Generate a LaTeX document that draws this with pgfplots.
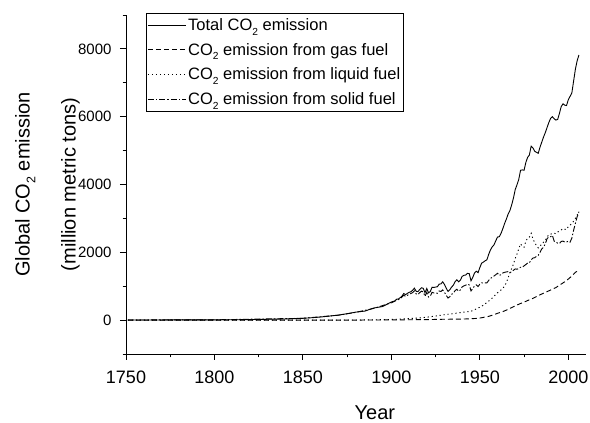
\documentclass[border=0pt]{standalone}
\usepackage{pgfplots}
\usepackage{pgfplotstable}
\usepackage{graphicx}
\pgfplotsset{compat=1.18}
\usepackage{fontspec}
\setmainfont{Liberation Sans}
\newcommand{\subtwo}{\raisebox{-0.55ex}{\scalebox{0.62}{2}}}

\pgfplotstableread{
year val
1751 3
1760 3
1770 4
1780 5
1790 6
1800 8
1810 10
1820 14
1830 24
1840 33
1850 54
1855 70
1860 91
1865 119
1870 147
1875 188
1880 236
1885 265
1890 356
1895 400
1900 534
1901 552
1902 566
1903 617
1904 624
1905 663
1906 707
1907 784
1908 750
1909 785
1910 819
1911 836
1912 879
1913 943
1914 850
1915 838
1916 901
1917 955
1918 936
1919 806
1920 932
1921 803
1922 845
1923 970
1924 963
1925 975
1926 983
1927 1062
1928 1065
1929 1130
1930 1053
1931 940
1932 847
1933 893
1934 973
1935 1027
1936 1130
1937 1190
1938 1130
1939 1180
1940 1290
1941 1320
1942 1330
1943 1380
1944 1370
1945 1160
1946 1260
1947 1390
1948 1440
1949 1400
1950 1550
1951 1680
1952 1710
1953 1750
1954 1780
1955 1940
1956 2070
1957 2160
1958 2220
1959 2340
1960 2450
1961 2460
1962 2560
1963 2700
1964 2850
1965 2980
1966 3130
1967 3230
1968 3400
1969 3600
1970 3850
1971 3990
1972 4150
1973 4420
1974 4430
1975 4420
1976 4650
1977 4800
1978 4870
1979 5130
1980 5080
1981 4980
1982 4950
1983 4920
1984 5100
1985 5250
1986 5400
1987 5530
1988 5680
1989 5830
1990 5950
1991 6000
1992 5940
1993 5900
1994 5920
1995 6100
1996 6300
1997 6380
1998 6340
1999 6330
2000 6500
2001 6600
2002 6700
2003 7050
2004 7400
2005 7650
2006 7820
}\total

\pgfplotstableread{
year val
1751 0
1880 0
1890 4
1900 5
1910 10
1920 15
1930 25
1940 30
1945 40
1948 50
1950 60
1953 90
1955 110
1958 160
1960 200
1963 250
1965 295
1968 370
1970 420
1973 490
1975 530
1978 600
1980 640
1983 720
1985 770
1988 840
1991 910
1993 960
1995 1030
1998 1130
2000 1210
2002 1300
2004 1410
2006 1470
}\gas

\pgfplotstableread{
year val
1751 0
1860 0
1870 1
1880 3
1890 8
1900 20
1905 30
1910 45
1915 60
1920 85
1925 120
1930 160
1935 190
1940 230
1945 260
1948 330
1950 380
1952 440
1955 560
1957 650
1959 760
1961 850
1963 930
1965 1100
1967 1400
1969 1650
1970 1820
1971 1950
1972 2100
1973 2250
1974 2180
1975 2150
1976 2330
1977 2420
1978 2450
1979 2560
1980 2400
1981 2280
1982 2200
1983 2130
1984 2200
1985 2220
1986 2300
1987 2350
1988 2450
1989 2520
1990 2530
1991 2560
1992 2560
1993 2550
1994 2600
1995 2620
1996 2660
1997 2700
1998 2680
1999 2670
2000 2760
2001 2800
2002 2850
2003 2920
2004 3000
2005 3100
2006 3200
}\liquid

\pgfplotstableread{
year val
1751 3
1800 8
1850 53
1870 144
1880 230
1890 345
1900 510
1903 585
1905 625
1907 735
1908 700
1910 760
1912 810
1913 865
1914 770
1915 755
1916 810
1917 855
1918 830
1919 700
1920 820
1921 680
1922 710
1923 820
1924 800
1925 800
1926 790
1927 860
1928 845
1929 890
1930 820
1931 730
1932 650
1933 690
1934 760
1935 790
1936 870
1937 910
1938 850
1939 890
1940 980
1941 1010
1942 1030
1943 1060
1944 1040
1945 860
1946 930
1947 1010
1948 1040
1949 990
1950 1060
1951 1100
1952 1090
1953 1100
1954 1100
1955 1170
1956 1230
1957 1260
1958 1300
1959 1340
1960 1380
1961 1320
1962 1340
1963 1390
1964 1410
1965 1420
1966 1430
1967 1400
1968 1430
1969 1470
1970 1510
1971 1500
1972 1520
1973 1560
1974 1560
1975 1600
1976 1640
1977 1680
1978 1690
1979 1780
1980 1830
1981 1840
1982 1880
1983 1910
1984 2000
1985 2100
1986 2150
1987 2250
1988 2400
1989 2450
1990 2460
1991 2500
1992 2330
1993 2300
1994 2270
1995 2260
1996 2320
1997 2330
1998 2300
1999 2300
2000 2330
2001 2300
2002 2420
2003 2650
2004 2850
2005 3050
2006 3180
}\solid

\begin{document}
\begin{tikzpicture}
\useasboundingbox (-126pt,-69pt) rectangle (464pt,354pt);
\begin{axis}[
  at={(0pt,0pt)}, anchor=south west,
  scale only axis, width=460pt, height=339pt,
  xmin=1750, xmax=2010, ymin=-1000, ymax=9000,
  axis lines*=left,
  axis line style={line width=0.9pt},
  tick style={line width=0.9pt, black},
  tick align=outside,
  major tick length=6pt, minor tick length=3.3pt,
  xtick={1750,1800,...,2000}, minor xtick={1775,1825,...,2000},
  ytick={0,2000,...,8000}, minor ytick={-1000,1000,...,9000},
  /pgf/number format/assume math mode=true,
  /pgf/number format/1000 sep={},
  xticklabel style={font=\fontsize{18}{20}\selectfont, yshift=-7pt},
  yticklabel style={font=\fontsize{15}{18}\selectfont, xshift=-5pt},
  xlabel={Year},
  xlabel style={at={(axis description cs:0.541,-0.192)}, anchor=base, font=\fontsize{20}{24}\selectfont},
  ylabel={Global CO\subtwo{} emission\\[22pt](million metric tons)},
  ylabel style={at={(axis description cs:-0.171,0.5)}, anchor=center, align=center, font=\fontsize{20}{24}\selectfont},
  legend cell align=left,
  legend style={at={(axis description cs:0.0435,1.007)}, anchor=north west, draw=black, line width=0.6pt,
    font=\fontsize{16.5}{19}\selectfont, inner xsep=1pt, inner ysep=3.5pt, row sep=7.2pt,
    nodes={inner sep=2pt}},
  legend image code/.code={\draw[#1] (0pt,0pt) -- (38pt,0pt);},
  every axis plot/.append style={line width=0.9pt, black},
]
\addplot[solid] table[x=year,y=val] {\total};
\addlegendentry{Total CO\subtwo{} emission}
\addplot[dash pattern=on 5pt off 3pt] table[x=year,y=val] {\gas};
\addlegendentry{CO\subtwo{} emission from gas fuel}
\addplot[dash pattern=on 1.2pt off 2.8pt] table[x=year,y=val] {\liquid};
\addlegendentry{CO\subtwo{} emission from liquid fuel}
\addplot[dash pattern=on 6pt off 2pt on 1.5pt off 2pt] table[x=year,y=val] {\solid};
\addlegendentry{CO\subtwo{} emission from solid fuel}
\end{axis}
\end{tikzpicture}
\end{document}
